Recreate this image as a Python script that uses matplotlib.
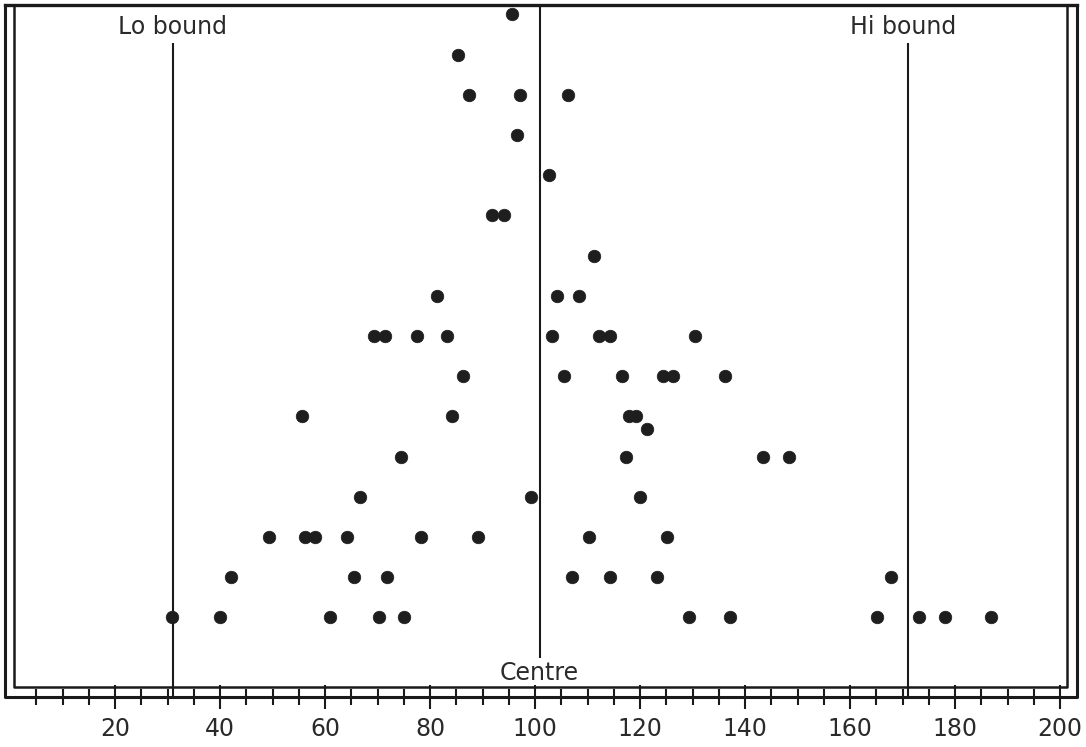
import matplotlib
matplotlib.use("Agg")
import matplotlib.pyplot as plt
from matplotlib.transforms import Affine2D
from matplotlib.lines import Line2D
import numpy as np

# ---- data: value (x) and stack level (y) of each dot ----
level_16 = [95.6]
level_15 = [85.4]
level_14 = [87.4, 97.2, 106.3]
level_13 = [96.6]
level_12 = [102.7]
level_11 = [91.9, 94.0]
level_10 = [111.2]
level_9 = [81.3, 104.2, 108.4]
level_8 = [69.3, 71.4, 77.6, 83.2, 103.3, 112.1, 114.2, 130.5]
level_7 = [86.2, 105.5, 116.6, 124.3, 126.3, 136.1]
level_6 = [55.7, 84.2, 117.9, 119.3]
level_5_7 = [121.4]
level_5 = [74.4, 117.3, 143.4, 148.3]
level_4 = [66.7, 99.2, 120.0]
level_3 = [49.4, 56.1, 58.1, 64.2, 78.3, 89.2, 110.2, 125.1]
level_2 = [42.0, 65.5, 71.9, 107.1, 114.2, 123.3, 167.9]
level_1 = [30.9, 40.0, 61.0, 70.2, 75.0, 129.3, 137.1, 165.1, 173.1, 178.0, 186.8]

rows = [(16, level_16), (15, level_15), (14, level_14), (13, level_13),
        (12, level_12), (11, level_11), (10, level_10), (9, level_9),
        (8, level_8), (7, level_7), (6, level_6), (5.7, level_5_7),
        (5, level_5), (4, level_4), (3, level_3), (2, level_2), (1, level_1)]

lo_bound = 31
centre = 101
hi_bound = 171

major_ticks = list(range(20, 201, 20))
minor_ticks = list(range(5, 201, 5))
tick_labels = [str(t) for t in major_ticks]

# ---- figure ----
W, H, DPI = 1086, 747, 100
fig = plt.figure(figsize=(W / DPI, H / DPI), dpi=DPI)
ax = fig.add_axes([0, 0, 1, 1])
ax.set_facecolor("white")

# pixel <-> data helpers (layout only)
x0_px, px_per_unit = 10.0, 5.25
row1_px, row_step_px = 617.5, 40.2
def vx(px):
    return (px - x0_px) / px_per_unit
def ky(py):
    return 1 + (row1_px - py) / row_step_px

ax.set_xlim(vx(0), vx(W))
ax.set_ylim(ky(H), ky(0))

# dots
xs, ys = [], []
for lvl, vals in rows:
    xs += vals
    ys += [lvl] * len(vals)
ax.scatter(xs, ys, s=82, color="#1e1e1e", edgecolors="#1e1e1e", linewidths=0.5, zorder=3)

# bound / centre lines
lc = "#1a1a1a"
ax.plot([lo_bound, lo_bound], [ky(43), ky(697)], color=lc, lw=1.5, solid_capstyle="butt")
ax.plot([hi_bound, hi_bound], [ky(43), ky(697)], color=lc, lw=1.5, solid_capstyle="butt")
ax.plot([centre, centre], [ky(5), ky(658)], color=lc, lw=1.5, solid_capstyle="butt")

font = ["DejaVu Sans"]
tc = "#2a2a2a"
ax.text(lo_bound, ky(27), "Lo bound", ha="center", va="center", fontsize=17, family=font, color=tc)
ax.text(hi_bound - 0.8, ky(27), "Hi bound", ha="center", va="center", fontsize=17, family=font, color=tc)
ax.text(centre - 0.2, ky(673), "Centre", ha="center", va="center", fontsize=17, family=font, color=tc)

# frame (pixel coordinates, y from top)
pxT = Affine2D().scale(1 / W, -1 / H).translate(0, 1) + fig.transFigure
outer = Line2D([5, 5, 1077, 1077], [5, 697, 697, 5], transform=pxT, color=lc, lw=2.2,
               solid_joinstyle="round")
top = Line2D([5, 1077], [5, 5], transform=pxT, color=lc, lw=2.4)
inner = Line2D([14, 14, 1067, 1067], [5, 687, 687, 5], transform=pxT, color=lc, lw=1.8,
               solid_joinstyle="round")
for ln in (outer, top, inner):
    fig.add_artist(ln)

# x axis ticks on the outer bottom line
for s in ["top", "left", "right"]:
    ax.spines[s].set_visible(False)
ax.spines["bottom"].set_position(("data", ky(697)))
ax.spines["bottom"].set_visible(False)
ax.set_xticks(major_ticks)
ax.set_xticklabels(tick_labels, family=font, fontsize=17, color=tc)
ax.set_xticks(minor_ticks, minor=True)
ax.tick_params(axis="x", which="major", direction="inout", length=17, width=1.5, pad=6, color=lc)
ax.tick_params(axis="x", which="minor", direction="inout", length=12, width=1.5, color=lc)
ax.set_yticks([])

fig.savefig("out.png", dpi=DPI)
